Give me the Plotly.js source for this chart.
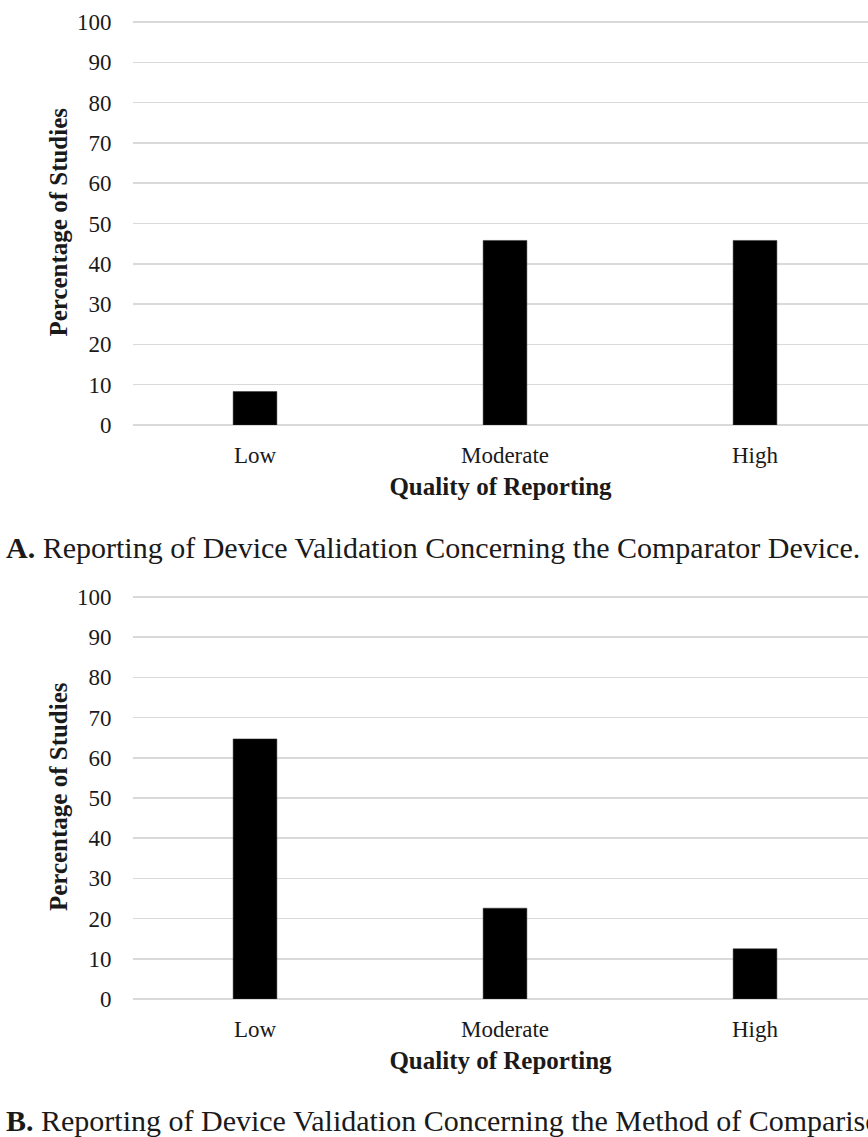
<!DOCTYPE html>
<html>
<head>
<meta charset="utf-8">
<script src="https://cdn.plot.ly/plotly-3.0.1.min.js"></script>
<style>
html,body{margin:0;padding:0;background:#fff;}
#chart{width:868px;height:1137px;}
</style>
</head>
<body>
<div id="chart"></div>
<script>
// Data
const categories = ["Low", "Moderate", "High"];
const comparatorDevice = [8.3, 45.8, 45.8];
const methodOfComparison = [64.7, 22.6, 12.5];
const yTicks = [0, 10, 20, 30, 40, 50, 60, 70, 80, 90, 100];
const xTitle = "Quality of Reporting";
const yTitle = "Percentage of Studies";
const captionA = "<b>A.</b> Reporting of Device Validation Concerning the Comparator Device.";
const captionB = "<b>B.</b> Reporting of Device Validation Concerning the Method of Comparison.";

const FONT = "Liberation Serif, Times New Roman, serif";
const TXT = "#1a1a1a";

const barStyle = {type: "bar", marker: {color: "#000000", line: {color: "#333", width: 0.5}}, width: 0.175, hoverinfo: "x+y", showlegend: false};

const traces = [
  Object.assign({}, barStyle, {x: categories, y: comparatorDevice, xaxis: "x", yaxis: "y"}),
  Object.assign({}, barStyle, {x: categories, y: methodOfComparison, xaxis: "x2", yaxis: "y2"})
];

function xax(anchor) {
  return {
    anchor: anchor, domain: [0, 1], range: [-0.488, 2.452], type: "category",
    showgrid: false, zeroline: false, showline: false,
    ticks: "outside", ticklen: 9, tickcolor: "rgba(0,0,0,0)",
    tickfont: {family: FONT, size: 23, color: TXT},
    title: {text: "<b>" + xTitle + "</b>", font: {family: FONT, size: 25, color: TXT}, standoff: 10},
    fixedrange: true
  };
}
function yax(anchor, dom) {
  return {
    anchor: anchor, domain: dom, range: [0, 100.6], tickvals: yTicks,
    showgrid: true, gridcolor: "#d9d9d9", gridwidth: 1.5,
    zeroline: true, zerolinecolor: "#d9d9d9", zerolinewidth: 1.5, showline: false,
    ticks: "outside", ticklen: 16, tickcolor: "rgba(0,0,0,0)",
    tickfont: {family: FONT, size: 23, color: TXT},
    title: {text: "<b>" + yTitle + "</b>", font: {family: FONT, size: 25, color: TXT}, standoff: 2},
    fixedrange: true
  };
}

const H = 1137;
const PX = 4.03; // px per unit
const layout = {
  width: 868, height: H,
  margin: {l: 133, r: 0, t: 0, b: 0},
  paper_bgcolor: "#fff", plot_bgcolor: "#fff",
  bargap: 0,
  xaxis: xax("y"),
  yaxis: yax("x", [1 - 425 / H, 1 - (22 - 0.6 * PX) / H]),
  xaxis2: xax("y2"),
  yaxis2: yax("x2", [1 - 999 / H, 1 - (597 - 0.6 * PX) / H]),
  annotations: [
    {text: captionA, xref: "paper", yref: "paper", x: (4 - 133) / 735, y: 1 - 547 / H,
     xanchor: "left", yanchor: "middle", showarrow: false, font: {family: FONT, size: 30, color: TXT}},
    {text: captionB, xref: "paper", yref: "paper", x: (4 - 133) / 735, y: 1 - 1120 / H,
     xanchor: "left", yanchor: "middle", showarrow: false, font: {family: FONT, size: 30, color: TXT}}
  ]
};

Plotly.newPlot("chart", traces, layout, {displayModeBar: false, staticPlot: true});
</script>
</body>
</html>
